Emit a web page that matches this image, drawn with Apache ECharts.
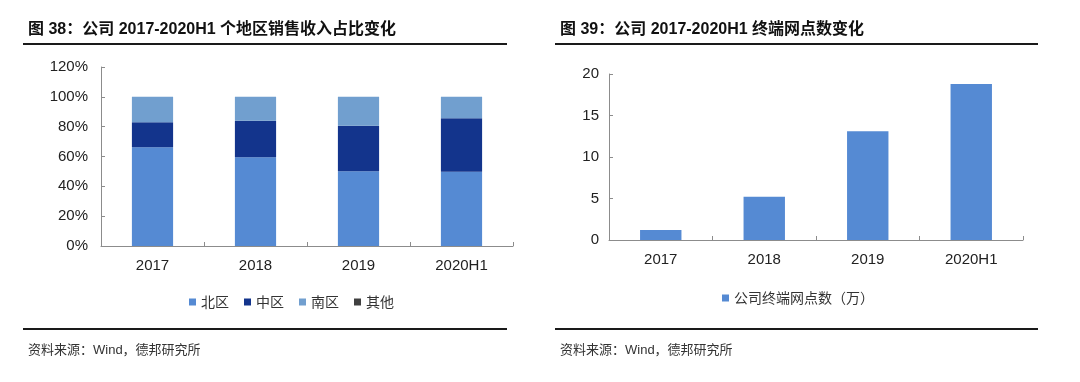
<!DOCTYPE html>
<html><head><meta charset="utf-8">
<script src="https://cdn.jsdelivr.net/npm/echarts@6/dist/echarts.min.js"></script>
<style>html,body{margin:0;padding:0;background:#fff}#c{width:1080px;height:382px}</style>
</head><body><div id="c"></div>
<script>
const categories = ['2017', '2018', '2019', '2020H1'];
const north = [66.2, 59.5, 50.1, 49.8];
const middle = [16.7, 24.5, 30.5, 35.8];
const south = [17.1, 16.0, 19.4, 14.4];
const other = [0, 0, 0, 0];
const outlets = [1.2, 5.2, 13.1, 18.8];
const leftTicks = [0, 20, 40, 60, 80, 100, 120];
const rightTicks = [0, 5, 10, 15, 20];

const chart = echarts.init(document.getElementById('c'));
const axisLine = {show: true, lineStyle: {color: '#8c8c8c', width: 1}};
const tickStyle = {show: true, inside: true, length: 4, lineStyle: {color: '#8c8c8c'}};
const lbl = {color: '#222', fontSize: 15, fontFamily: 'Liberation Sans, Arial, sans-serif'};
const mixed = '"Liberation Sans", "Noto Sans CJK SC", sans-serif';
const lineStyle = {stroke: '#1a1a1a', lineWidth: 2};

chart.setOption({
  animation: false,
  textStyle: {fontFamily: 'Liberation Sans, Arial, sans-serif'},
  title: [
    {text: '图 38：公司 2017-2020H1 个地区销售收入占比变化', left: 23, top: 17,
     textStyle: {fontSize: 16, fontWeight: 'bold', color: '#111', fontFamily: mixed}},
    {text: '图 39：公司 2017-2020H1 终端网点数变化', left: 555, top: 17,
     textStyle: {fontSize: 16, fontWeight: 'bold', color: '#111', fontFamily: mixed}},
    {text: '资料来源：Wind，德邦研究所', left: 23, top: 339,
     textStyle: {fontSize: 13, fontWeight: 'normal', color: '#333', fontFamily: mixed}},
    {text: '资料来源：Wind，德邦研究所', left: 555, top: 339,
     textStyle: {fontSize: 13, fontWeight: 'normal', color: '#333', fontFamily: mixed}}
  ],
  graphic: [
    {type: 'line', shape: {x1: 23, y1: 44, x2: 507, y2: 44}, style: lineStyle},
    {type: 'line', shape: {x1: 555, y1: 44, x2: 1038, y2: 44}, style: lineStyle},
    {type: 'line', shape: {x1: 23, y1: 329, x2: 507, y2: 329}, style: lineStyle},
    {type: 'line', shape: {x1: 555, y1: 329, x2: 1038, y2: 329}, style: lineStyle}
  ],
  legend: [
    {data: ['北区', '中区', '南区', '其他'], left: 184, top: 290, itemWidth: 7, itemHeight: 7, itemGap: 15,
     icon: 'rect', textStyle: {fontSize: 14, color: '#333', fontFamily: 'Noto Sans CJK SC'}},
    {data: ['公司终端网点数（万）'], left: 717, top: 286, itemWidth: 7, itemHeight: 7,
     icon: 'rect', textStyle: {fontSize: 14, color: '#333', fontFamily: 'Noto Sans CJK SC'}}
  ],
  grid: [
    {left: 101, right: 567, top: 67, bottom: 136},
    {left: 609, right: 57, top: 74, bottom: 142}
  ],
  xAxis: [
    {type: 'category', gridIndex: 0, data: categories, axisLine, axisTick: tickStyle,
     axisLabel: Object.assign({margin: 12}, lbl)},
    {type: 'category', gridIndex: 1, data: categories, axisLine, axisTick: tickStyle,
     axisLabel: Object.assign({margin: 12}, lbl)}
  ],
  yAxis: [
    {type: 'value', gridIndex: 0, min: leftTicks[0], max: leftTicks[leftTicks.length - 1], interval: 20,
     axisLine, axisTick: tickStyle, splitLine: {show: false},
     axisLabel: Object.assign({margin: 13, formatter: '{value}%'}, lbl)},
    {type: 'value', gridIndex: 1, min: rightTicks[0], max: rightTicks[rightTicks.length - 1], interval: 5,
     axisLine, axisTick: tickStyle, splitLine: {show: false},
     axisLabel: Object.assign({margin: 10}, lbl)}
  ],
  series: [
    {name: '北区', type: 'bar', stack: 'a', xAxisIndex: 0, yAxisIndex: 0, data: north, barWidth: '40%', itemStyle: {color: '#558ad3'}},
    {name: '中区', type: 'bar', stack: 'a', xAxisIndex: 0, yAxisIndex: 0, data: middle, barWidth: '40%', itemStyle: {color: '#13348c'}},
    {name: '南区', type: 'bar', stack: 'a', xAxisIndex: 0, yAxisIndex: 0, data: south, barWidth: '40%', itemStyle: {color: '#719fcf'}},
    {name: '其他', type: 'bar', stack: 'a', xAxisIndex: 0, yAxisIndex: 0, data: other, barWidth: '40%', itemStyle: {color: '#404040'}},
    {name: '公司终端网点数（万）', type: 'bar', xAxisIndex: 1, yAxisIndex: 1, data: outlets, barWidth: '40%', itemStyle: {color: '#558ad3'}}
  ]
});
</script></body></html>
